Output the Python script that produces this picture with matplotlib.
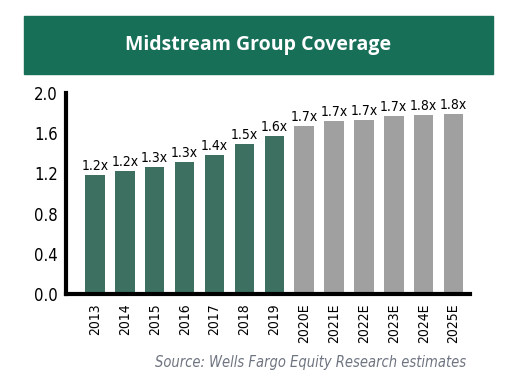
import matplotlib.pyplot as plt
from matplotlib.patches import Rectangle

years = ["2013", "2014", "2015", "2016", "2017", "2018", "2019",
         "2020E", "2021E", "2022E", "2023E", "2024E", "2025E"]
coverage = [1.18, 1.22, 1.26, 1.31, 1.38, 1.49, 1.57,
            1.67, 1.72, 1.73, 1.77, 1.78, 1.79]
labels = ["1.2x", "1.2x", "1.3x", "1.3x", "1.4x", "1.5x", "1.6x",
          "1.7x", "1.7x", "1.7x", "1.7x", "1.8x", "1.8x"]
n_actual = 7

green = "#3e7061"
grey = "#a0a0a0"
cond = dict(family="DejaVu Sans", stretch="condensed")

fig = plt.figure(figsize=(5.11, 3.83), dpi=100)

# title band
fig.patches.append(Rectangle((24 / 511, 1 - 74 / 383), (493 - 24) / 511, 58 / 383,
                             transform=fig.transFigure, color="#186f58", zorder=0))
fig.text(258 / 511, 1 - 45 / 383, "Midstream Group Coverage", color="white",
         fontsize=14, fontweight="bold", ha="center", va="center",
         family=["Open Sans", "DejaVu Sans"])

ax = fig.add_axes([66 / 511, 1 - 294 / 383, (470 - 66) / 511, (294 - 93) / 383])
colors = [green] * n_actual + [grey] * (len(years) - n_actual)
x = list(range(len(years)))
ax.bar(x, coverage, width=0.65, color=colors, zorder=2)
for xi, v, lab in zip(x, coverage, labels):
    ax.text(xi, v + 0.02, lab, ha="center", va="bottom", fontsize=10, **cond)

ax.set_xlim(-0.97, 12.55)
ax.set_ylim(0, 2.0)
ax.set_yticks([0.0, 0.4, 0.8, 1.2, 1.6, 2.0])
ax.set_yticklabels(["0.0", "0.4", "0.8", "1.2", "1.6", "2.0"], fontsize=12, **cond)
ax.set_xticks(x)
ax.set_xticklabels(years, rotation=90, fontsize=10, **cond)
ax.tick_params(length=0, pad=7)
ax.tick_params(axis="y", pad=6)
for s in ["top", "right"]:
    ax.spines[s].set_visible(False)
for s in ["left", "bottom"]:
    ax.spines[s].set_linewidth(3)
    ax.spines[s].set_zorder(3)

fig.text(466 / 511, 1 - 363 / 383, "Source: Wells Fargo Equity Research estimates",
         ha="right", va="center", fontsize=10.5, style="italic", color="#6e7480",
         **cond)

fig.savefig("out.png", dpi=100)
